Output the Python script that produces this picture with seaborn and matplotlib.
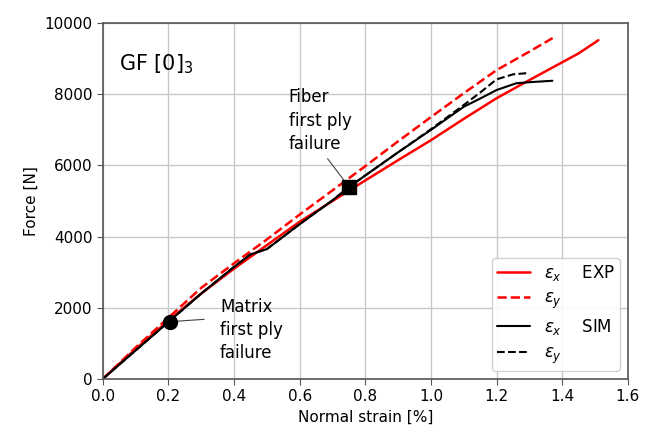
import pandas as pd
import seaborn as sns
import matplotlib.pyplot as plt

# EXP, normal strain eps_x
exp_x_strain = [0, 0.1, 0.2, 0.3, 0.4, 0.5, 0.6, 0.7, 0.8, 0.9, 1.0, 1.1, 1.2, 1.3, 1.4, 1.45, 1.51]
exp_x_force = [0, 840, 1640, 2400, 3100, 3760, 4420, 5000, 5580, 6150, 6710, 7310, 7890, 8400, 8900, 9150, 9520]
# EXP, eps_y
exp_y_strain = [0, 0.1, 0.2, 0.3, 0.4, 0.5, 0.6, 0.7, 0.8, 0.9, 1.0, 1.1, 1.2, 1.3, 1.38]
exp_y_force = [0, 880, 1720, 2560, 3250, 3920, 4620, 5300, 5980, 6680, 7360, 8030, 8680, 9200, 9630]
# SIM, eps_x
sim_x_strain = [0, 0.2, 0.3, 0.4, 0.45, 0.5, 0.6, 0.7, 0.75, 0.8, 0.9, 1.0, 1.1, 1.15, 1.2, 1.26, 1.3, 1.37]
sim_x_force = [0, 1600, 2400, 3150, 3500, 3650, 4350, 5020, 5390, 5720, 6370, 7000, 7650, 7880, 8120, 8310, 8340, 8380]
# SIM, eps_y
sim_y_strain = [0, 0.2, 0.3, 0.4, 0.45, 0.5, 0.6, 0.7, 0.75, 0.8, 0.9, 1.0, 1.1, 1.15, 1.2, 1.25, 1.3]
sim_y_force = [0, 1600, 2400, 3150, 3500, 3650, 4350, 5020, 5390, 5720, 6370, 7020, 7700, 8050, 8420, 8560, 8600]

# first ply failure points
matrix_fpf = (0.204, 1610)
fiber_fpf = (0.75, 5400)

sns.set_style("whitegrid")
plt.rcParams['font.family'] = ['DejaVu Sans']
plt.rcParams['text.color'] = 'black'
plt.rcParams['axes.labelcolor'] = 'black'

fig, ax = plt.subplots(figsize=(6.46, 4.28), dpi=100)
fig.subplots_adjust(left=0.159, right=0.972, top=0.946, bottom=0.1145)

sns.lineplot(x=exp_x_strain, y=exp_x_force, color='red', lw=1.8, sort=False, estimator=None,
             ax=ax, label='$\\varepsilon_x$    EXP')
sns.lineplot(x=exp_y_strain, y=exp_y_force, color='red', lw=1.8, ls='--', sort=False, estimator=None,
             ax=ax, label='$\\varepsilon_y$')
sns.lineplot(x=sim_x_strain, y=sim_x_force, color='black', lw=1.5, sort=False, estimator=None,
             ax=ax, label='$\\varepsilon_x$    SIM')
sns.lineplot(x=sim_y_strain, y=sim_y_force, color='black', lw=1.5, ls='--', sort=False, estimator=None,
             ax=ax, label='$\\varepsilon_y$')

ax.plot(*matrix_fpf, 'o', color='black', ms=10, zorder=5)
ax.plot(*fiber_fpf, 's', color='black', ms=10, zorder=5)

ax.annotate('Matrix\nfirst ply\nfailure', xy=matrix_fpf, xytext=(0.357, 1380),
            fontsize=12, va='center', ha='left', linespacing=1.38,
            arrowprops=dict(arrowstyle='-', color='#444444', lw=0.8, shrinkA=9, shrinkB=0,
                            relpos=(0.0, 0.68)))
ax.annotate('Fiber\nfirst ply\nfailure', xy=fiber_fpf, xytext=(0.567, 7255),
            fontsize=12, va='center', ha='left', linespacing=1.38,
            arrowprops=dict(arrowstyle='-', color='#444444', lw=0.8, shrinkA=2, shrinkB=6,
                            relpos=(0.55, 0.0)))

ax.text(0.05, 8850, 'GF [0]$_3$', fontsize=15, va='center', ha='left')

ax.set_xlim(0, 1.6)
ax.set_ylim(0, 10000)
ax.set_xticks([0, 0.2, 0.4, 0.6, 0.8, 1.0, 1.2, 1.4, 1.6])
ax.set_yticks([0, 2000, 4000, 6000, 8000, 10000])
ax.set_xlabel('Normal strain [%]', fontsize=11)
ax.set_ylabel('Force [N]', fontsize=11)
ax.tick_params(labelsize=11, length=4, color='#555555', labelcolor='black',
               direction='out', left=True, bottom=True)
ax.grid(color='#c8c8c8', lw=1)
for s in ax.spines.values():
    s.set_color('#555555')
    s.set_linewidth(1.2)

ax.legend(loc='lower right', fontsize=12, handlelength=2.0, labelspacing=0.38,
          borderpad=0.3, borderaxespad=0.5, framealpha=0.9)

fig.savefig('out.png', dpi=100)
